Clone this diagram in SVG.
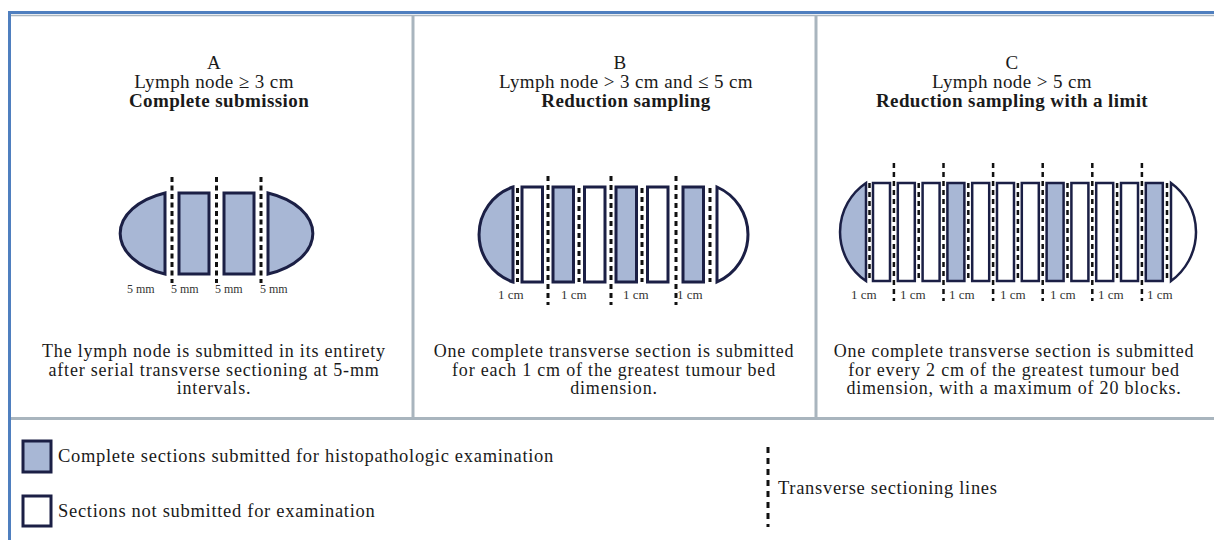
<svg xmlns="http://www.w3.org/2000/svg" width="1214" height="540" viewBox="0 0 1214 540">
<style>
text{font-family:"Liberation Serif","Times New Roman",serif;fill:#1a1a1a}
.t{font-size:19px;text-anchor:middle;letter-spacing:0.4px}
.b{font-weight:bold}
.d{font-size:18px;text-anchor:middle;letter-spacing:0.8px}
.s{font-size:12px;fill:#333}
.c{font-size:13px;fill:#333}
.lg{font-size:18.5px;letter-spacing:0.7px}
.on{fill:#a8b7d5;stroke:#1b1f45;stroke-width:3}
.off{fill:#fff;stroke:#1b1f45;stroke-width:3}
.on2{fill:#a8b7d5;stroke:#1b1f45;stroke-width:2.5}
.off2{fill:#fff;stroke:#1b1f45;stroke-width:2.5}
.dA{stroke:#111;stroke-width:3;stroke-dasharray:5 3.5;fill:none}
.dB{stroke:#111;stroke-width:3;stroke-dasharray:5 4;fill:none}
.dC{stroke:#111;stroke-width:2.5;stroke-dasharray:5 4;fill:none}
.frame{stroke:#4f7fbf;stroke-width:3;fill:none}
.grid{stroke:#a9b5be;stroke-width:3;fill:none}
</style>
<rect width="1214" height="540" fill="#fff"/>
<g id="frame">
<line class="grid" x1="11" y1="15.5" x2="1214" y2="15.5" style="stroke-width:1.5"/>
<line class="grid" x1="413" y1="15" x2="413" y2="418"/>
<line class="grid" x1="816" y1="15" x2="816" y2="418"/>
<line class="grid" x1="11" y1="418.5" x2="1214" y2="418.5"/>
<line class="frame" x1="8" y1="12.5" x2="1214" y2="12.5"/>
<line class="frame" x1="9.5" y1="11" x2="9.5" y2="540"/>
</g>

<g id="panelA">
<text class="t" x="214" y="69">A</text>
<text class="t" x="214" y="88">Lymph node ≥ 3 cm</text>
<text class="t b" x="219" y="107">Complete submission</text>
<path class="on" d="M165,193 A70,43.4 0 0 0 165,274 Z"/>
<rect class="on" x="179" y="193" width="30" height="81"/>
<rect class="on" x="224" y="193" width="30" height="81"/>
<path class="on" d="M268,193 A70,43.4 0 0 1 268,274 Z"/>
<text class="s" x="127" y="293">5 mm</text>
<text class="s" x="171" y="293">5 mm</text>
<text class="s" x="215" y="293">5 mm</text>
<text class="s" x="260" y="293">5 mm</text>
<text class="d" x="214" y="357">The lymph node is submitted in its entirety</text>
<text class="d" x="214" y="375.5">after serial transverse sectioning at 5-mm</text>
<text class="d" x="214" y="394">intervals.</text>
</g>

<g id="panelB">
<text class="t" x="620" y="69">B</text>
<text class="t" x="626" y="88">Lymph node &gt; 3 cm and ≤ 5 cm</text>
<text class="t b" x="626" y="107">Reduction sampling</text>
<path class="on" d="M513,187 A50.2,50.2 0 0 0 513,282 Z"/>
<rect class="off" x="522" y="187" width="20.5" height="95"/>
<rect class="on" x="553" y="187" width="20.5" height="95"/>
<rect class="off" x="584.5" y="187" width="20.5" height="95"/>
<rect class="on" x="616" y="187" width="20.5" height="95"/>
<rect class="off" x="647.5" y="187" width="20.5" height="95"/>
<rect class="on" x="683" y="187" width="20.5" height="95"/>
<path class="off" d="M717,187 A51.9,51.9 0 0 1 717,282 Z"/>
<text class="c" x="498" y="299">1 cm</text>
<text class="c" x="561" y="299">1 cm</text>
<text class="c" x="623" y="299">1 cm</text>
<text class="c" x="677" y="299">1 cm</text>
<text class="d" x="614" y="357">One complete transverse section is submitted</text>
<text class="d" x="614" y="375.5">for each 1 cm of the greatest tumour bed</text>
<text class="d" x="614" y="394">dimension.</text>
</g>

<g id="panelC">
<text class="t" x="1012" y="69">C</text>
<text class="t" x="1012" y="88">Lymph node &gt; 5 cm</text>
<text class="t b" x="1012" y="107">Reduction sampling with a limit</text>
<path class="on2" d="M866,183 A59.2,59.2 0 0 0 866,281 Z"/>
<rect class="off2" x="873" y="183" width="17" height="98"/>
<rect class="off2" x="897.8" y="183" width="17" height="98"/>
<rect class="off2" x="922.6" y="183" width="17" height="98"/>
<rect class="on2" x="947.4" y="183" width="17" height="98"/>
<rect class="off2" x="972.2" y="183" width="17" height="98"/>
<rect class="off2" x="997" y="183" width="17" height="98"/>
<rect class="off2" x="1021.8" y="183" width="17" height="98"/>
<rect class="on2" x="1046.6" y="183" width="17" height="98"/>
<rect class="off2" x="1071.4" y="183" width="17" height="98"/>
<rect class="off2" x="1096.2" y="183" width="17" height="98"/>
<rect class="off2" x="1121" y="183" width="17" height="98"/>
<rect class="on2" x="1145.8" y="183" width="17" height="98"/>
<path class="off2" d="M1171,183 A60.5,60.5 0 0 1 1171,281 Z"/>
<text class="c" x="851" y="299">1 cm</text>
<text class="c" x="900" y="299">1 cm</text>
<text class="c" x="949" y="299">1 cm</text>
<text class="c" x="1000" y="299">1 cm</text>
<text class="c" x="1050" y="299">1 cm</text>
<text class="c" x="1098" y="299">1 cm</text>
<text class="c" x="1147" y="299">1 cm</text>
<text class="d" x="1014" y="357">One complete transverse section is submitted</text>
<text class="d" x="1014" y="375.5">for every 2 cm of the greatest tumour bed</text>
<text class="d" x="1014" y="394">dimension, with a maximum of 20 blocks.</text>
</g>

<g id="connectors">
<line class="dA" x1="172" y1="177" x2="172" y2="283"/>
<line class="dA" x1="216.5" y1="177" x2="216.5" y2="283"/>
<line class="dA" x1="261" y1="177" x2="261" y2="283"/>
<line class="dB" x1="517.5" y1="188" x2="517.5" y2="282"/>
<line class="dB" x1="579" y1="188" x2="579" y2="282"/>
<line class="dB" x1="642" y1="188" x2="642" y2="282"/>
<line class="dB" x1="710" y1="188" x2="710" y2="282"/>
<line class="dB" x1="548" y1="176" x2="548" y2="305"/>
<line class="dB" x1="611" y1="176" x2="611" y2="305"/>
<line class="dB" x1="676" y1="176" x2="676" y2="305"/>
<line class="dC" x1="869.5" y1="183" x2="869.5" y2="281"/>
<line class="dC" x1="918.7" y1="183" x2="918.7" y2="281"/>
<line class="dC" x1="968.3" y1="183" x2="968.3" y2="281"/>
<line class="dC" x1="1017.9" y1="183" x2="1017.9" y2="281"/>
<line class="dC" x1="1067.5" y1="183" x2="1067.5" y2="281"/>
<line class="dC" x1="1117.1" y1="183" x2="1117.1" y2="281"/>
<line class="dC" x1="1167" y1="183" x2="1167" y2="281"/>
<line class="dC" x1="893.9" y1="163" x2="893.9" y2="301"/>
<line class="dC" x1="943.5" y1="163" x2="943.5" y2="301"/>
<line class="dC" x1="993.1" y1="163" x2="993.1" y2="301"/>
<line class="dC" x1="1042.7" y1="163" x2="1042.7" y2="301"/>
<line class="dC" x1="1092.3" y1="163" x2="1092.3" y2="301"/>
<line class="dC" x1="1141.9" y1="163" x2="1141.9" y2="301"/>
</g>

<g id="legend">
<rect class="on" x="23" y="441" width="28" height="31"/>
<text class="lg" x="58" y="462">Complete sections submitted for histopathologic examination</text>
<rect class="off" x="23" y="496" width="28" height="30"/>
<text class="lg" x="58" y="517">Sections not submitted for examination</text>
<line class="dB" x1="768" y1="447" x2="768" y2="527" style="stroke-dasharray:6 5"/>
<text class="lg" x="778" y="494">Transverse sectioning lines</text>
</g>
</svg>
